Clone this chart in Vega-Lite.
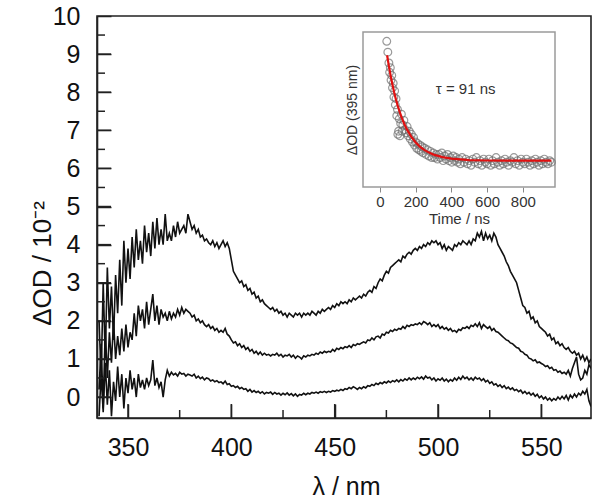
{
"$schema":"https://vega.github.io/schema/vega-lite/v6.json",
"width":494,"height":402,
"autosize":{"type":"none"},
"padding":{"left":97,"top":16,"right":9,"bottom":80},
"config":{"font":"Liberation Sans","view":{"stroke":"#222","strokeWidth":1.6},"axis":{"grid":false}},
"datasets":{
"spec":[
{"s":"a","nm":336,"od":2.0},{"s":"a","nm":337,"od":0.5},{"s":"a","nm":338,"od":3.0},{"s":"a","nm":339,"od":1.0},{"s":"a","nm":340,"od":3.4},{"s":"a","nm":341,"od":1.8},{"s":"a","nm":342,"od":2.9},{"s":"a","nm":343,"od":1.5},{"s":"a","nm":344,"od":3.2},{"s":"a","nm":345,"od":2.2},{"s":"a","nm":346,"od":3.6},{"s":"a","nm":347,"od":2.4},{"s":"a","nm":348,"od":4.1},{"s":"a","nm":349,"od":3.0},{"s":"a","nm":350,"od":3.9},{"s":"a","nm":351,"od":3.1},{"s":"a","nm":352,"od":4.2},{"s":"a","nm":353,"od":3.4},{"s":"a","nm":354,"od":4.4},{"s":"a","nm":355,"od":3.6},{"s":"a","nm":356,"od":4.1},{"s":"a","nm":357,"od":3.5},{"s":"a","nm":358,"od":4.5},{"s":"a","nm":359,"od":3.8},{"s":"a","nm":360,"od":4.3},{"s":"a","nm":361,"od":3.7},{"s":"a","nm":362,"od":4.6},{"s":"a","nm":363,"od":3.9},{"s":"a","nm":364,"od":4.7},{"s":"a","nm":365,"od":4.0},{"s":"a","nm":366,"od":4.4},{"s":"a","nm":367,"od":4.0},{"s":"a","nm":368,"od":4.8},{"s":"a","nm":369,"od":4.1},{"s":"a","nm":370,"od":4.3},{"s":"a","nm":371,"od":4.1},{"s":"a","nm":372,"od":4.5},{"s":"a","nm":373,"od":4.2},{"s":"a","nm":374,"od":4.6},{"s":"a","nm":375,"od":4.3},{"s":"a","nm":376,"od":4.4},{"s":"a","nm":377,"od":4.5},{"s":"a","nm":378,"od":4.3},{"s":"a","nm":379,"od":4.8},{"s":"a","nm":380,"od":4.6},{"s":"a","nm":381,"od":4.4},{"s":"a","nm":382,"od":4.5},{"s":"a","nm":383,"od":4.3},{"s":"a","nm":384,"od":4.4},{"s":"a","nm":385,"od":4.2},{"s":"a","nm":386,"od":4.25},{"s":"a","nm":387,"od":4.1},{"s":"a","nm":388,"od":4.15},{"s":"a","nm":389,"od":4.05},{"s":"a","nm":390,"od":4.0},{"s":"a","nm":391,"od":4.1},{"s":"a","nm":392,"od":3.95},{"s":"a","nm":393,"od":4.05},{"s":"a","nm":394,"od":3.9},{"s":"a","nm":395,"od":4.0},{"s":"a","nm":396,"od":4.1},{"s":"a","nm":397,"od":3.95},{"s":"a","nm":398,"od":4.05},{"s":"a","nm":399,"od":3.9},{"s":"a","nm":400,"od":3.6},{"s":"a","nm":401,"od":3.3},{"s":"a","nm":402,"od":3.2},{"s":"a","nm":403,"od":3.1},{"s":"a","nm":404,"od":3.0},{"s":"a","nm":405,"od":3.05},{"s":"a","nm":406,"od":2.9},{"s":"a","nm":407,"od":2.95},{"s":"a","nm":408,"od":2.8},{"s":"a","nm":409,"od":2.85},{"s":"a","nm":410,"od":2.7},{"s":"a","nm":411,"od":2.75},{"s":"a","nm":412,"od":2.6},{"s":"a","nm":413,"od":2.65},{"s":"a","nm":414,"od":2.5},{"s":"a","nm":415,"od":2.55},{"s":"a","nm":416,"od":2.45},{"s":"a","nm":417,"od":2.4},{"s":"a","nm":418,"od":2.35},{"s":"a","nm":419,"od":2.3},{"s":"a","nm":420,"od":2.35},{"s":"a","nm":421,"od":2.25},{"s":"a","nm":422,"od":2.3},{"s":"a","nm":423,"od":2.2},{"s":"a","nm":424,"od":2.25},{"s":"a","nm":425,"od":2.15},{"s":"a","nm":426,"od":2.2},{"s":"a","nm":427,"od":2.1},{"s":"a","nm":428,"od":2.2},{"s":"a","nm":429,"od":2.15},{"s":"a","nm":430,"od":2.1},{"s":"a","nm":431,"od":2.2},{"s":"a","nm":432,"od":2.15},{"s":"a","nm":433,"od":2.2},{"s":"a","nm":434,"od":2.1},{"s":"a","nm":435,"od":2.2},{"s":"a","nm":436,"od":2.15},{"s":"a","nm":437,"od":2.2},{"s":"a","nm":438,"od":2.15},{"s":"a","nm":439,"od":2.25},{"s":"a","nm":440,"od":2.2},{"s":"a","nm":441,"od":2.15},{"s":"a","nm":442,"od":2.25},{"s":"a","nm":443,"od":2.2},{"s":"a","nm":444,"od":2.3},{"s":"a","nm":445,"od":2.25},{"s":"a","nm":446,"od":2.3},{"s":"a","nm":447,"od":2.35},{"s":"a","nm":448,"od":2.3},{"s":"a","nm":449,"od":2.4},{"s":"a","nm":450,"od":2.35},{"s":"a","nm":451,"od":2.45},{"s":"a","nm":452,"od":2.4},{"s":"a","nm":453,"od":2.5},{"s":"a","nm":454,"od":2.45},{"s":"a","nm":455,"od":2.5},{"s":"a","nm":456,"od":2.45},{"s":"a","nm":457,"od":2.55},{"s":"a","nm":458,"od":2.5},{"s":"a","nm":459,"od":2.6},{"s":"a","nm":460,"od":2.55},{"s":"a","nm":461,"od":2.6},{"s":"a","nm":462,"od":2.65},{"s":"a","nm":463,"od":2.6},{"s":"a","nm":464,"od":2.7},{"s":"a","nm":465,"od":2.65},{"s":"a","nm":466,"od":2.75},{"s":"a","nm":467,"od":2.8},{"s":"a","nm":468,"od":2.75},{"s":"a","nm":469,"od":2.9},{"s":"a","nm":470,"od":2.85},{"s":"a","nm":471,"od":3.0},{"s":"a","nm":472,"od":3.1},{"s":"a","nm":473,"od":3.05},{"s":"a","nm":474,"od":3.2},{"s":"a","nm":475,"od":3.3},{"s":"a","nm":476,"od":3.25},{"s":"a","nm":477,"od":3.4},{"s":"a","nm":478,"od":3.45},{"s":"a","nm":479,"od":3.5},{"s":"a","nm":480,"od":3.55},{"s":"a","nm":481,"od":3.6},{"s":"a","nm":482,"od":3.55},{"s":"a","nm":483,"od":3.7},{"s":"a","nm":484,"od":3.65},{"s":"a","nm":485,"od":3.75},{"s":"a","nm":486,"od":3.8},{"s":"a","nm":487,"od":3.75},{"s":"a","nm":488,"od":3.85},{"s":"a","nm":489,"od":3.9},{"s":"a","nm":490,"od":3.85},{"s":"a","nm":491,"od":3.95},{"s":"a","nm":492,"od":3.9},{"s":"a","nm":493,"od":4.0},{"s":"a","nm":494,"od":3.95},{"s":"a","nm":495,"od":4.05},{"s":"a","nm":496,"od":4.0},{"s":"a","nm":497,"od":4.1},{"s":"a","nm":498,"od":4.05},{"s":"a","nm":499,"od":4.1},{"s":"a","nm":500,"od":4.0},{"s":"a","nm":501,"od":4.05},{"s":"a","nm":502,"od":3.9},{"s":"a","nm":503,"od":4.0},{"s":"a","nm":504,"od":3.85},{"s":"a","nm":505,"od":3.95},{"s":"a","nm":506,"od":3.9},{"s":"a","nm":507,"od":3.85},{"s":"a","nm":508,"od":4.0},{"s":"a","nm":509,"od":3.95},{"s":"a","nm":510,"od":4.05},{"s":"a","nm":511,"od":4.0},{"s":"a","nm":512,"od":4.1},{"s":"a","nm":513,"od":4.05},{"s":"a","nm":514,"od":4.0},{"s":"a","nm":515,"od":4.1},{"s":"a","nm":516,"od":4.0},{"s":"a","nm":517,"od":4.15},{"s":"a","nm":518,"od":4.1},{"s":"a","nm":519,"od":4.3},{"s":"a","nm":520,"od":4.2},{"s":"a","nm":521,"od":4.35},{"s":"a","nm":522,"od":4.1},{"s":"a","nm":523,"od":4.3},{"s":"a","nm":524,"od":4.15},{"s":"a","nm":525,"od":4.25},{"s":"a","nm":526,"od":4.1},{"s":"a","nm":527,"od":4.3},{"s":"a","nm":528,"od":4.2},{"s":"a","nm":529,"od":4.0},{"s":"a","nm":530,"od":3.9},{"s":"a","nm":531,"od":3.8},{"s":"a","nm":532,"od":3.7},{"s":"a","nm":533,"od":3.55},{"s":"a","nm":534,"od":3.45},{"s":"a","nm":535,"od":3.3},{"s":"a","nm":536,"od":3.2},{"s":"a","nm":537,"od":3.1},{"s":"a","nm":538,"od":3.0},{"s":"a","nm":539,"od":2.8},{"s":"a","nm":540,"od":2.6},{"s":"a","nm":541,"od":2.4},{"s":"a","nm":542,"od":2.35},{"s":"a","nm":543,"od":2.2},{"s":"a","nm":544,"od":2.25},{"s":"a","nm":545,"od":2.05},{"s":"a","nm":546,"od":2.1},{"s":"a","nm":547,"od":1.95},{"s":"a","nm":548,"od":2.0},{"s":"a","nm":549,"od":1.85},{"s":"a","nm":550,"od":1.8},{"s":"a","nm":551,"od":1.75},{"s":"a","nm":552,"od":1.7},{"s":"a","nm":553,"od":1.6},{"s":"a","nm":554,"od":1.65},{"s":"a","nm":555,"od":1.5},{"s":"a","nm":556,"od":1.55},{"s":"a","nm":557,"od":1.4},{"s":"a","nm":558,"od":1.45},{"s":"a","nm":559,"od":1.35},{"s":"a","nm":560,"od":1.4},{"s":"a","nm":561,"od":1.3},{"s":"a","nm":562,"od":1.25},{"s":"a","nm":563,"od":1.3},{"s":"a","nm":564,"od":1.2},{"s":"a","nm":565,"od":1.15},{"s":"a","nm":566,"od":1.2},{"s":"a","nm":567,"od":1.1},{"s":"a","nm":568,"od":1.15},{"s":"a","nm":569,"od":1.0},{"s":"a","nm":570,"od":1.1},{"s":"a","nm":571,"od":0.95},{"s":"a","nm":572,"od":1.05},{"s":"a","nm":573,"od":0.9},{"s":"a","nm":574,"od":1.0},
{"s":"b","nm":336,"od":0.2},{"s":"b","nm":337,"od":1.4},{"s":"b","nm":338,"od":-0.3},{"s":"b","nm":339,"od":1.8},{"s":"b","nm":340,"od":0.5},{"s":"b","nm":341,"od":1.7},{"s":"b","nm":342,"od":0.9},{"s":"b","nm":343,"od":2.0},{"s":"b","nm":344,"od":1.0},{"s":"b","nm":345,"od":1.6},{"s":"b","nm":346,"od":1.1},{"s":"b","nm":347,"od":1.8},{"s":"b","nm":348,"od":1.2},{"s":"b","nm":349,"od":1.9},{"s":"b","nm":350,"od":1.3},{"s":"b","nm":351,"od":1.7},{"s":"b","nm":352,"od":1.5},{"s":"b","nm":353,"od":2.2},{"s":"b","nm":354,"od":1.6},{"s":"b","nm":355,"od":2.4},{"s":"b","nm":356,"od":2.0},{"s":"b","nm":357,"od":2.3},{"s":"b","nm":358,"od":1.8},{"s":"b","nm":359,"od":2.5},{"s":"b","nm":360,"od":1.9},{"s":"b","nm":361,"od":2.3},{"s":"b","nm":362,"od":2.7},{"s":"b","nm":363,"od":2.0},{"s":"b","nm":364,"od":2.4},{"s":"b","nm":365,"od":1.9},{"s":"b","nm":366,"od":2.3},{"s":"b","nm":367,"od":2.1},{"s":"b","nm":368,"od":2.2},{"s":"b","nm":369,"od":2.0},{"s":"b","nm":370,"od":2.25},{"s":"b","nm":371,"od":2.05},{"s":"b","nm":372,"od":2.2},{"s":"b","nm":373,"od":2.1},{"s":"b","nm":374,"od":2.3},{"s":"b","nm":375,"od":2.15},{"s":"b","nm":376,"od":2.35},{"s":"b","nm":377,"od":2.2},{"s":"b","nm":378,"od":2.3},{"s":"b","nm":379,"od":2.25},{"s":"b","nm":380,"od":2.2},{"s":"b","nm":381,"od":2.1},{"s":"b","nm":382,"od":2.15},{"s":"b","nm":383,"od":2.0},{"s":"b","nm":384,"od":2.05},{"s":"b","nm":385,"od":1.95},{"s":"b","nm":386,"od":2.0},{"s":"b","nm":387,"od":1.9},{"s":"b","nm":388,"od":1.85},{"s":"b","nm":389,"od":1.9},{"s":"b","nm":390,"od":1.8},{"s":"b","nm":391,"od":1.85},{"s":"b","nm":392,"od":1.75},{"s":"b","nm":393,"od":1.8},{"s":"b","nm":394,"od":1.7},{"s":"b","nm":395,"od":1.75},{"s":"b","nm":396,"od":1.7},{"s":"b","nm":397,"od":1.8},{"s":"b","nm":398,"od":1.65},{"s":"b","nm":399,"od":1.6},{"s":"b","nm":400,"od":1.5},{"s":"b","nm":401,"od":1.42},{"s":"b","nm":402,"od":1.45},{"s":"b","nm":403,"od":1.35},{"s":"b","nm":404,"od":1.4},{"s":"b","nm":405,"od":1.3},{"s":"b","nm":406,"od":1.35},{"s":"b","nm":407,"od":1.25},{"s":"b","nm":408,"od":1.3},{"s":"b","nm":409,"od":1.2},{"s":"b","nm":410,"od":1.25},{"s":"b","nm":411,"od":1.15},{"s":"b","nm":412,"od":1.2},{"s":"b","nm":413,"od":1.12},{"s":"b","nm":414,"od":1.18},{"s":"b","nm":415,"od":1.1},{"s":"b","nm":416,"od":1.15},{"s":"b","nm":417,"od":1.1},{"s":"b","nm":418,"od":1.12},{"s":"b","nm":419,"od":1.08},{"s":"b","nm":420,"od":1.12},{"s":"b","nm":421,"od":1.1},{"s":"b","nm":422,"od":1.15},{"s":"b","nm":423,"od":1.08},{"s":"b","nm":424,"od":1.12},{"s":"b","nm":425,"od":1.05},{"s":"b","nm":426,"od":1.1},{"s":"b","nm":427,"od":1.08},{"s":"b","nm":428,"od":1.12},{"s":"b","nm":429,"od":1.05},{"s":"b","nm":430,"od":1.1},{"s":"b","nm":431,"od":1.02},{"s":"b","nm":432,"od":1.08},{"s":"b","nm":433,"od":1.05},{"s":"b","nm":434,"od":1.0},{"s":"b","nm":435,"od":1.08},{"s":"b","nm":436,"od":1.05},{"s":"b","nm":437,"od":1.1},{"s":"b","nm":438,"od":1.08},{"s":"b","nm":439,"od":1.12},{"s":"b","nm":440,"od":1.1},{"s":"b","nm":441,"od":1.15},{"s":"b","nm":442,"od":1.12},{"s":"b","nm":443,"od":1.18},{"s":"b","nm":444,"od":1.15},{"s":"b","nm":445,"od":1.2},{"s":"b","nm":446,"od":1.17},{"s":"b","nm":447,"od":1.2},{"s":"b","nm":448,"od":1.18},{"s":"b","nm":449,"od":1.25},{"s":"b","nm":450,"od":1.2},{"s":"b","nm":451,"od":1.28},{"s":"b","nm":452,"od":1.25},{"s":"b","nm":453,"od":1.3},{"s":"b","nm":454,"od":1.27},{"s":"b","nm":455,"od":1.32},{"s":"b","nm":456,"od":1.3},{"s":"b","nm":457,"od":1.35},{"s":"b","nm":458,"od":1.3},{"s":"b","nm":459,"od":1.38},{"s":"b","nm":460,"od":1.35},{"s":"b","nm":461,"od":1.4},{"s":"b","nm":462,"od":1.38},{"s":"b","nm":463,"od":1.42},{"s":"b","nm":464,"od":1.45},{"s":"b","nm":465,"od":1.42},{"s":"b","nm":466,"od":1.5},{"s":"b","nm":467,"od":1.48},{"s":"b","nm":468,"od":1.55},{"s":"b","nm":469,"od":1.5},{"s":"b","nm":470,"od":1.58},{"s":"b","nm":471,"od":1.6},{"s":"b","nm":472,"od":1.55},{"s":"b","nm":473,"od":1.65},{"s":"b","nm":474,"od":1.62},{"s":"b","nm":475,"od":1.7},{"s":"b","nm":476,"od":1.68},{"s":"b","nm":477,"od":1.75},{"s":"b","nm":478,"od":1.72},{"s":"b","nm":479,"od":1.78},{"s":"b","nm":480,"od":1.75},{"s":"b","nm":481,"od":1.8},{"s":"b","nm":482,"od":1.78},{"s":"b","nm":483,"od":1.85},{"s":"b","nm":484,"od":1.8},{"s":"b","nm":485,"od":1.88},{"s":"b","nm":486,"od":1.85},{"s":"b","nm":487,"od":1.9},{"s":"b","nm":488,"od":1.88},{"s":"b","nm":489,"od":1.92},{"s":"b","nm":490,"od":1.9},{"s":"b","nm":491,"od":1.95},{"s":"b","nm":492,"od":1.9},{"s":"b","nm":493,"od":1.98},{"s":"b","nm":494,"od":1.95},{"s":"b","nm":495,"od":1.9},{"s":"b","nm":496,"od":1.95},{"s":"b","nm":497,"od":1.85},{"s":"b","nm":498,"od":1.9},{"s":"b","nm":499,"od":1.85},{"s":"b","nm":500,"od":1.9},{"s":"b","nm":501,"od":1.8},{"s":"b","nm":502,"od":1.85},{"s":"b","nm":503,"od":1.78},{"s":"b","nm":504,"od":1.82},{"s":"b","nm":505,"od":1.75},{"s":"b","nm":506,"od":1.8},{"s":"b","nm":507,"od":1.72},{"s":"b","nm":508,"od":1.75},{"s":"b","nm":509,"od":1.7},{"s":"b","nm":510,"od":1.78},{"s":"b","nm":511,"od":1.75},{"s":"b","nm":512,"od":1.82},{"s":"b","nm":513,"od":1.8},{"s":"b","nm":514,"od":1.85},{"s":"b","nm":515,"od":1.8},{"s":"b","nm":516,"od":1.88},{"s":"b","nm":517,"od":1.85},{"s":"b","nm":518,"od":1.92},{"s":"b","nm":519,"od":1.85},{"s":"b","nm":520,"od":1.95},{"s":"b","nm":521,"od":1.8},{"s":"b","nm":522,"od":1.9},{"s":"b","nm":523,"od":1.85},{"s":"b","nm":524,"od":1.8},{"s":"b","nm":525,"od":1.85},{"s":"b","nm":526,"od":1.75},{"s":"b","nm":527,"od":1.8},{"s":"b","nm":528,"od":1.72},{"s":"b","nm":529,"od":1.7},{"s":"b","nm":530,"od":1.65},{"s":"b","nm":531,"od":1.6},{"s":"b","nm":532,"od":1.55},{"s":"b","nm":533,"od":1.5},{"s":"b","nm":534,"od":1.48},{"s":"b","nm":535,"od":1.42},{"s":"b","nm":536,"od":1.4},{"s":"b","nm":537,"od":1.35},{"s":"b","nm":538,"od":1.3},{"s":"b","nm":539,"od":1.28},{"s":"b","nm":540,"od":1.2},{"s":"b","nm":541,"od":1.18},{"s":"b","nm":542,"od":1.12},{"s":"b","nm":543,"od":1.1},{"s":"b","nm":544,"od":1.02},{"s":"b","nm":545,"od":1.0},{"s":"b","nm":546,"od":0.95},{"s":"b","nm":547,"od":0.98},{"s":"b","nm":548,"od":0.9},{"s":"b","nm":549,"od":0.92},{"s":"b","nm":550,"od":0.88},{"s":"b","nm":551,"od":0.85},{"s":"b","nm":552,"od":0.8},{"s":"b","nm":553,"od":0.82},{"s":"b","nm":554,"od":0.75},{"s":"b","nm":555,"od":0.78},{"s":"b","nm":556,"od":0.7},{"s":"b","nm":557,"od":0.72},{"s":"b","nm":558,"od":0.65},{"s":"b","nm":559,"od":0.68},{"s":"b","nm":560,"od":0.62},{"s":"b","nm":561,"od":0.65},{"s":"b","nm":562,"od":0.6},{"s":"b","nm":563,"od":0.7},{"s":"b","nm":564,"od":0.55},{"s":"b","nm":565,"od":0.75},{"s":"b","nm":566,"od":0.9},{"s":"b","nm":567,"od":1.05},{"s":"b","nm":568,"od":0.6},{"s":"b","nm":569,"od":0.45},{"s":"b","nm":570,"od":0.5},{"s":"b","nm":571,"od":0.7},{"s":"b","nm":572,"od":0.6},{"s":"b","nm":573,"od":0.85},{"s":"b","nm":574,"od":0.75},
{"s":"c","nm":336,"od":-0.5},{"s":"c","nm":337,"od":0.6},{"s":"c","nm":338,"od":-0.4},{"s":"c","nm":339,"od":0.9},{"s":"c","nm":340,"od":-0.2},{"s":"c","nm":341,"od":0.7},{"s":"c","nm":342,"od":-0.5},{"s":"c","nm":343,"od":0.4},{"s":"c","nm":344,"od":-0.1},{"s":"c","nm":345,"od":0.8},{"s":"c","nm":346,"od":0.0},{"s":"c","nm":347,"od":0.6},{"s":"c","nm":348,"od":-0.3},{"s":"c","nm":349,"od":0.5},{"s":"c","nm":350,"od":0.1},{"s":"c","nm":351,"od":0.7},{"s":"c","nm":352,"od":0.2},{"s":"c","nm":353,"od":0.5},{"s":"c","nm":354,"od":0.0},{"s":"c","nm":355,"od":0.6},{"s":"c","nm":356,"od":0.25},{"s":"c","nm":357,"od":0.45},{"s":"c","nm":358,"od":0.2},{"s":"c","nm":359,"od":0.5},{"s":"c","nm":360,"od":0.3},{"s":"c","nm":361,"od":0.45},{"s":"c","nm":362,"od":0.97},{"s":"c","nm":363,"od":0.3},{"s":"c","nm":364,"od":0.5},{"s":"c","nm":365,"od":0.25},{"s":"c","nm":366,"od":0.4},{"s":"c","nm":367,"od":0.0},{"s":"c","nm":368,"od":0.45},{"s":"c","nm":369,"od":0.7},{"s":"c","nm":370,"od":0.55},{"s":"c","nm":371,"od":0.65},{"s":"c","nm":372,"od":0.58},{"s":"c","nm":373,"od":0.62},{"s":"c","nm":374,"od":0.55},{"s":"c","nm":375,"od":0.65},{"s":"c","nm":376,"od":0.6},{"s":"c","nm":377,"od":0.62},{"s":"c","nm":378,"od":0.55},{"s":"c","nm":379,"od":0.6},{"s":"c","nm":380,"od":0.58},{"s":"c","nm":381,"od":0.55},{"s":"c","nm":382,"od":0.6},{"s":"c","nm":383,"od":0.5},{"s":"c","nm":384,"od":0.55},{"s":"c","nm":385,"od":0.48},{"s":"c","nm":386,"od":0.52},{"s":"c","nm":387,"od":0.45},{"s":"c","nm":388,"od":0.5},{"s":"c","nm":389,"od":0.48},{"s":"c","nm":390,"od":0.42},{"s":"c","nm":391,"od":0.45},{"s":"c","nm":392,"od":0.4},{"s":"c","nm":393,"od":0.43},{"s":"c","nm":394,"od":0.38},{"s":"c","nm":395,"od":0.4},{"s":"c","nm":396,"od":0.35},{"s":"c","nm":397,"od":0.42},{"s":"c","nm":398,"od":0.33},{"s":"c","nm":399,"od":0.35},{"s":"c","nm":400,"od":0.28},{"s":"c","nm":401,"od":0.3},{"s":"c","nm":402,"od":0.25},{"s":"c","nm":403,"od":0.28},{"s":"c","nm":404,"od":0.22},{"s":"c","nm":405,"od":0.25},{"s":"c","nm":406,"od":0.2},{"s":"c","nm":407,"od":0.22},{"s":"c","nm":408,"od":0.15},{"s":"c","nm":409,"od":0.2},{"s":"c","nm":410,"od":0.13},{"s":"c","nm":411,"od":0.17},{"s":"c","nm":412,"od":0.12},{"s":"c","nm":413,"od":0.15},{"s":"c","nm":414,"od":0.1},{"s":"c","nm":415,"od":0.14},{"s":"c","nm":416,"od":0.08},{"s":"c","nm":417,"od":0.12},{"s":"c","nm":418,"od":0.1},{"s":"c","nm":419,"od":0.13},{"s":"c","nm":420,"od":0.07},{"s":"c","nm":421,"od":0.12},{"s":"c","nm":422,"od":0.08},{"s":"c","nm":423,"od":0.1},{"s":"c","nm":424,"od":0.05},{"s":"c","nm":425,"od":0.1},{"s":"c","nm":426,"od":0.06},{"s":"c","nm":427,"od":0.11},{"s":"c","nm":428,"od":0.05},{"s":"c","nm":429,"od":0.09},{"s":"c","nm":430,"od":0.03},{"s":"c","nm":431,"od":0.08},{"s":"c","nm":432,"od":0.02},{"s":"c","nm":433,"od":0.07},{"s":"c","nm":434,"od":0.05},{"s":"c","nm":435,"od":0.1},{"s":"c","nm":436,"od":0.06},{"s":"c","nm":437,"od":0.1},{"s":"c","nm":438,"od":0.08},{"s":"c","nm":439,"od":0.12},{"s":"c","nm":440,"od":0.1},{"s":"c","nm":441,"od":0.13},{"s":"c","nm":442,"od":0.1},{"s":"c","nm":443,"od":0.14},{"s":"c","nm":444,"od":0.12},{"s":"c","nm":445,"od":0.15},{"s":"c","nm":446,"od":0.12},{"s":"c","nm":447,"od":0.15},{"s":"c","nm":448,"od":0.13},{"s":"c","nm":449,"od":0.17},{"s":"c","nm":450,"od":0.15},{"s":"c","nm":451,"od":0.18},{"s":"c","nm":452,"od":0.16},{"s":"c","nm":453,"od":0.2},{"s":"c","nm":454,"od":0.17},{"s":"c","nm":455,"od":0.22},{"s":"c","nm":456,"od":0.2},{"s":"c","nm":457,"od":0.25},{"s":"c","nm":458,"od":0.22},{"s":"c","nm":459,"od":0.27},{"s":"c","nm":460,"od":0.24},{"s":"c","nm":461,"od":0.2},{"s":"c","nm":462,"od":0.25},{"s":"c","nm":463,"od":0.22},{"s":"c","nm":464,"od":0.27},{"s":"c","nm":465,"od":0.24},{"s":"c","nm":466,"od":0.3},{"s":"c","nm":467,"od":0.28},{"s":"c","nm":468,"od":0.33},{"s":"c","nm":469,"od":0.3},{"s":"c","nm":470,"od":0.36},{"s":"c","nm":471,"od":0.33},{"s":"c","nm":472,"od":0.38},{"s":"c","nm":473,"od":0.35},{"s":"c","nm":474,"od":0.4},{"s":"c","nm":475,"od":0.37},{"s":"c","nm":476,"od":0.42},{"s":"c","nm":477,"od":0.38},{"s":"c","nm":478,"od":0.43},{"s":"c","nm":479,"od":0.4},{"s":"c","nm":480,"od":0.45},{"s":"c","nm":481,"od":0.4},{"s":"c","nm":482,"od":0.46},{"s":"c","nm":483,"od":0.42},{"s":"c","nm":484,"od":0.48},{"s":"c","nm":485,"od":0.44},{"s":"c","nm":486,"od":0.5},{"s":"c","nm":487,"od":0.45},{"s":"c","nm":488,"od":0.5},{"s":"c","nm":489,"od":0.46},{"s":"c","nm":490,"od":0.52},{"s":"c","nm":491,"od":0.48},{"s":"c","nm":492,"od":0.53},{"s":"c","nm":493,"od":0.47},{"s":"c","nm":494,"od":0.55},{"s":"c","nm":495,"od":0.5},{"s":"c","nm":496,"od":0.52},{"s":"c","nm":497,"od":0.45},{"s":"c","nm":498,"od":0.5},{"s":"c","nm":499,"od":0.42},{"s":"c","nm":500,"od":0.48},{"s":"c","nm":501,"od":0.44},{"s":"c","nm":502,"od":0.5},{"s":"c","nm":503,"od":0.42},{"s":"c","nm":504,"od":0.47},{"s":"c","nm":505,"od":0.4},{"s":"c","nm":506,"od":0.46},{"s":"c","nm":507,"od":0.42},{"s":"c","nm":508,"od":0.5},{"s":"c","nm":509,"od":0.44},{"s":"c","nm":510,"od":0.52},{"s":"c","nm":511,"od":0.46},{"s":"c","nm":512,"od":0.55},{"s":"c","nm":513,"od":0.48},{"s":"c","nm":514,"od":0.52},{"s":"c","nm":515,"od":0.45},{"s":"c","nm":516,"od":0.5},{"s":"c","nm":517,"od":0.44},{"s":"c","nm":518,"od":0.52},{"s":"c","nm":519,"od":0.47},{"s":"c","nm":520,"od":0.5},{"s":"c","nm":521,"od":0.43},{"s":"c","nm":522,"od":0.48},{"s":"c","nm":523,"od":0.4},{"s":"c","nm":524,"od":0.44},{"s":"c","nm":525,"od":0.36},{"s":"c","nm":526,"od":0.4},{"s":"c","nm":527,"od":0.32},{"s":"c","nm":528,"od":0.35},{"s":"c","nm":529,"od":0.28},{"s":"c","nm":530,"od":0.32},{"s":"c","nm":531,"od":0.25},{"s":"c","nm":532,"od":0.3},{"s":"c","nm":533,"od":0.22},{"s":"c","nm":534,"od":0.26},{"s":"c","nm":535,"od":0.2},{"s":"c","nm":536,"od":0.24},{"s":"c","nm":537,"od":0.17},{"s":"c","nm":538,"od":0.2},{"s":"c","nm":539,"od":0.14},{"s":"c","nm":540,"od":0.18},{"s":"c","nm":541,"od":0.1},{"s":"c","nm":542,"od":0.15},{"s":"c","nm":543,"od":0.08},{"s":"c","nm":544,"od":0.12},{"s":"c","nm":545,"od":0.05},{"s":"c","nm":546,"od":0.1},{"s":"c","nm":547,"od":0.02},{"s":"c","nm":548,"od":0.07},{"s":"c","nm":549,"od":-0.02},{"s":"c","nm":550,"od":0.03},{"s":"c","nm":551,"od":-0.05},{"s":"c","nm":552,"od":0.0},{"s":"c","nm":553,"od":-0.08},{"s":"c","nm":554,"od":-0.03},{"s":"c","nm":555,"od":-0.1},{"s":"c","nm":556,"od":-0.04},{"s":"c","nm":557,"od":-0.08},{"s":"c","nm":558,"od":0.0},{"s":"c","nm":559,"od":-0.06},{"s":"c","nm":560,"od":0.02},{"s":"c","nm":561,"od":-0.05},{"s":"c","nm":562,"od":0.04},{"s":"c","nm":563,"od":-0.08},{"s":"c","nm":564,"od":0.05},{"s":"c","nm":565,"od":-0.02},{"s":"c","nm":566,"od":0.08},{"s":"c","nm":567,"od":0.0},{"s":"c","nm":568,"od":0.1},{"s":"c","nm":569,"od":0.05},{"s":"c","nm":570,"od":0.15},{"s":"c","nm":571,"od":0.08},{"s":"c","nm":572,"od":0.2},{"s":"c","nm":573,"od":-0.1},{"s":"c","nm":574,"od":-0.25}
],
"pts":[
{"t":38,"v":0.94},{"t":44,"v":0.87},{"t":50,"v":0.80},{"t":54,"v":0.74},{"t":58,"v":0.77},{"t":62,"v":0.69},{"t":66,"v":0.72},{"t":70,"v":0.64},{"t":74,"v":0.67},{"t":78,"v":0.58},{"t":82,"v":0.62},{"t":86,"v":0.53},{"t":90,"v":0.57},{"t":94,"v":0.46},{"t":98,"v":0.50},{"t":100,"v":0.34},{"t":104,"v":0.36},{"t":108,"v":0.44},{"t":112,"v":0.33},{"t":116,"v":0.41},{"t":120,"v":0.47},{"t":124,"v":0.36},{"t":128,"v":0.40},{"t":134,"v":0.43},{"t":140,"v":0.37},{"t":146,"v":0.35},{"t":152,"v":0.39},{"t":158,"v":0.33},{"t":164,"v":0.36},{"t":170,"v":0.31},{"t":176,"v":0.34},{"t":182,"v":0.29},{"t":188,"v":0.32},{"t":194,"v":0.27},{"t":200,"v":0.29},{"t":206,"v":0.25},{"t":212,"v":0.28},{"t":218,"v":0.24},{"t":224,"v":0.27},{"t":230,"v":0.23},{"t":236,"v":0.26},{"t":242,"v":0.22},{"t":250,"v":0.25},{"t":258,"v":0.21},{"t":266,"v":0.24},{"t":274,"v":0.20},{"t":282,"v":0.23},{"t":290,"v":0.19},{"t":298,"v":0.22},{"t":306,"v":0.19},{"t":314,"v":0.21},{"t":322,"v":0.18},{"t":330,"v":0.21},{"t":338,"v":0.19},{"t":346,"v":0.22},{"t":354,"v":0.17},{"t":362,"v":0.20},{"t":370,"v":0.18},{"t":378,"v":0.21},{"t":386,"v":0.17},{"t":394,"v":0.19},{"t":402,"v":0.16},{"t":410,"v":0.20},{"t":418,"v":0.17},{"t":426,"v":0.19},{"t":434,"v":0.16},{"t":442,"v":0.18},{"t":450,"v":0.15},{"t":460,"v":0.19},{"t":470,"v":0.16},{"t":480,"v":0.18},{"t":490,"v":0.15},{"t":500,"v":0.17},{"t":510,"v":0.14},{"t":520,"v":0.18},{"t":530,"v":0.16},{"t":540,"v":0.19},{"t":550,"v":0.15},{"t":560,"v":0.17},{"t":570,"v":0.14},{"t":580,"v":0.18},{"t":590,"v":0.16},{"t":600,"v":0.15},{"t":610,"v":0.18},{"t":620,"v":0.14},{"t":630,"v":0.17},{"t":640,"v":0.15},{"t":650,"v":0.19},{"t":660,"v":0.16},{"t":670,"v":0.14},{"t":680,"v":0.17},{"t":690,"v":0.15},{"t":700,"v":0.18},{"t":710,"v":0.16},{"t":720,"v":0.14},{"t":730,"v":0.17},{"t":740,"v":0.16},{"t":750,"v":0.19},{"t":760,"v":0.15},{"t":770,"v":0.17},{"t":780,"v":0.14},{"t":790,"v":0.18},{"t":800,"v":0.16},{"t":810,"v":0.15},{"t":820,"v":0.18},{"t":830,"v":0.16},{"t":840,"v":0.14},{"t":850,"v":0.17},{"t":860,"v":0.15},{"t":870,"v":0.18},{"t":880,"v":0.16},{"t":890,"v":0.14},{"t":900,"v":0.17},{"t":910,"v":0.15},{"t":920,"v":0.18},{"t":930,"v":0.16},{"t":940,"v":0.15},{"t":950,"v":0.17},{"t":960,"v":0.16}
],
"fit":[
{"t":40,"v":0.85},{"t":50,"v":0.78},{"t":60,"v":0.716},{"t":70,"v":0.66},{"t":80,"v":0.608},{"t":90,"v":0.562},{"t":100,"v":0.522},{"t":110,"v":0.486},{"t":120,"v":0.452},{"t":135,"v":0.41},{"t":150,"v":0.373},{"t":175,"v":0.325},{"t":200,"v":0.287},{"t":225,"v":0.259},{"t":250,"v":0.238},{"t":275,"v":0.222},{"t":300,"v":0.209},{"t":350,"v":0.193},{"t":400,"v":0.183},{"t":450,"v":0.178},{"t":500,"v":0.174},{"t":600,"v":0.171},{"t":700,"v":0.17},{"t":800,"v":0.17},{"t":960,"v":0.17}
]
},
"layer":[
{"data":{"name":"spec"},
 "mark":{"type":"line","color":"#111","strokeWidth":1.6,"clip":true},
 "encoding":{
  "x":{"field":"nm","type":"quantitative","scale":{"domain":[335,574],"nice":false,"zero":false},
   "axis":{"orient":"bottom","values":[350,400,450,500,550],"tickSize":-14,
    "tickColor":"#222","tickWidth":1.5,"domainColor":"#222","domainWidth":1.6,
    "labelFontSize":25,"labelColor":"#111","labelPadding":31,
    "title":"λ / nm","titleFontSize":25,"titleFontWeight":"normal","titleColor":"#111",
    "titleX":249,"titleY":68,"titleAlign":"center","titleBaseline":"middle"}},
  "y":{"field":"od","type":"quantitative","scale":{"domain":[-0.55,10],"nice":false,"zero":false},
   "axis":{"orient":"left","values":[0,1,2,3,4,5,6,7,8,9,10],"tickSize":-14,
    "tickColor":"#222","tickWidth":1.5,"domainColor":"#222","domainWidth":1.6,
    "labelFontSize":25,"labelColor":"#111","labelPadding":31,"labelFlush":false,
    "title":"ΔOD / 10⁻²","titleFontSize":26,"titleFontWeight":"normal","titleColor":"#111",
    "titleAngle":-90,"titleX":-55,"titleY":247,"titleAlign":"center","titleBaseline":"middle"}},
  "detail":{"field":"s"}
 }},
{"data":{"values":[{"tv":350},{"tv":400},{"tv":450},{"tv":500},{"tv":550}]},
 "mark":{"type":"tick","orient":"vertical","size":28,"thickness":1.5,"color":"#222","opacity":1,"clip":true},
 "encoding":{
  "x":{"field":"tv","type":"quantitative","scale":{"domain":[335,574],"nice":false,"zero":false},"axis":null},
  "y":{"datum":-0.55,"type":"quantitative","scale":{"domain":[-0.55,10],"nice":false,"zero":false},"axis":null}
 }},
{"data":{"values":[{"tv":375},{"tv":425},{"tv":475},{"tv":525}]},
 "mark":{"type":"tick","orient":"vertical","size":16,"thickness":1.5,"color":"#222","opacity":1,"clip":true},
 "encoding":{
  "x":{"field":"tv","type":"quantitative","scale":{"domain":[335,574],"nice":false,"zero":false},"axis":null},
  "y":{"datum":-0.55,"type":"quantitative","scale":{"domain":[-0.55,10],"nice":false,"zero":false},"axis":null}
 }},
{"data":{"values":[{"tv":0},{"tv":1},{"tv":2},{"tv":3},{"tv":4},{"tv":5},{"tv":6},{"tv":7},{"tv":8},{"tv":9},{"tv":10}]},
 "mark":{"type":"tick","orient":"horizontal","size":28,"thickness":1.5,"color":"#222","opacity":1,"clip":true},
 "encoding":{
  "y":{"field":"tv","type":"quantitative","scale":{"domain":[-0.55,10],"nice":false,"zero":false},"axis":null},
  "x":{"datum":335,"type":"quantitative","scale":{"domain":[335,574],"nice":false,"zero":false},"axis":null}
 }},
{"data":{"values":[{"tv":0.5},{"tv":1.5},{"tv":2.5},{"tv":3.5},{"tv":4.5},{"tv":5.5},{"tv":6.5},{"tv":7.5},{"tv":8.5},{"tv":9.5}]},
 "mark":{"type":"tick","orient":"horizontal","size":16,"thickness":1.5,"color":"#222","opacity":1,"clip":true},
 "encoding":{
  "y":{"field":"tv","type":"quantitative","scale":{"domain":[-0.55,10],"nice":false,"zero":false},"axis":null},
  "x":{"datum":335,"type":"quantitative","scale":{"domain":[335,574],"nice":false,"zero":false},"axis":null}
 }},
{"layer":[
 {"data":{"values":[{}]},
  "mark":{"type":"rect","filled":false,"stroke":"#9a9a9a","strokeWidth":1.5},
  "encoding":{
   "x":{"datum":-95,"type":"quantitative"},
   "x2":{"datum":980},
   "y":{"datum":0,"type":"quantitative"},
   "y2":{"datum":1}
  }},
 {"data":{"name":"pts"},
  "mark":{"type":"point","shape":"circle","filled":false,"stroke":"#707070","strokeWidth":1.2,"size":60},
  "encoding":{
   "x":{"field":"t","type":"quantitative","scale":{"domain":[-95,980],"range":[266,458],"nice":false,"zero":false},
    "axis":{"orient":"bottom","offset":-231,"values":[0,200,400,600,800],"domain":false,"grid":false,
     "tickSize":5,"tickColor":"#888","tickWidth":1,"labelFontSize":15,"labelColor":"#333","labelPadding":2,
     "labelFlush":false,"labelOverlap":false,"title":"Time / ns","titleFontSize":15,"titleFontWeight":"normal","titleColor":"#333","titlePadding":2}},
   "y":{"field":"v","type":"quantitative","scale":{"domain":[0,1],"range":[171,16],"nice":false,"zero":false},
    "axis":{"orient":"left","offset":-266,"ticks":false,"labels":false,"domain":false,"grid":false,
     "title":"ΔOD (395 nm)","titleFontSize":14,"titleFontWeight":"normal","titleColor":"#333","titlePadding":4}}
  }},
 {"data":{"name":"fit"},
  "mark":{"type":"line","color":"#e01010","strokeWidth":2.2},
  "encoding":{
   "x":{"field":"t","type":"quantitative",
    "axis":{"orient":"bottom","offset":-231,"values":[0,200,400,600,800],"domain":false,"grid":false,
     "tickSize":5,"tickColor":"#888","tickWidth":1,"labelFontSize":15,"labelColor":"#333","labelPadding":2,
     "labelFlush":false,"labelOverlap":false,"title":"Time / ns","titleFontSize":15,"titleFontWeight":"normal","titleColor":"#333","titlePadding":2}},
   "y":{"field":"v","type":"quantitative",
    "axis":{"orient":"left","offset":-266,"ticks":false,"labels":false,"domain":false,"grid":false,
     "title":"ΔOD (395 nm)","titleFontSize":14,"titleFontWeight":"normal","titleColor":"#333","titlePadding":4}}
  }},
 {"data":{"values":[{}]},
  "mark":{"type":"text","text":"τ = 91 ns","fontSize":15,"color":"#333","align":"center","baseline":"middle"},
  "encoding":{"x":{"datum":480,"type":"quantitative"},"y":{"datum":0.63,"type":"quantitative"}}}
 ]}
],
"resolve":{"scale":{"x":"independent","y":"independent"}}
}
